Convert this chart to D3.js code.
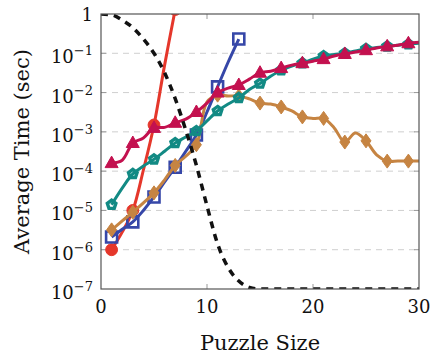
<!DOCTYPE html>
<html>
<head>
<meta charset="utf-8">
<script src="https://cdn.jsdelivr.net/npm/d3@7"></script>
<style>
  html, body { margin: 0; padding: 0; background: #fff; }
</style>
</head>
<body>
<div id="chart"></div>
<script>
// puzzle sizes 1..30 (marks drawn on the odd sizes only)
const sizes = d3.range(1, 31);

const redTimes    = [1e-6, 2.8e-6, 1e-5, 1.07e-4, 1.5e-3, 0.05, 1.3];
const blueTimes   = [2.1e-6, 3.3e-6, 5.1e-6, 1.0e-5, 2.2e-5, 5.3e-5, 1.26e-4, 3.2e-4, 8.3e-4, 3.2e-3, 1.4e-2, 6e-2, 0.23];
const orangeTimes = [3.2e-6, 5.4e-6, 9e-6, 1.55e-5, 2.8e-5, 6e-5, 1.4e-4, 2.4e-4, 4.7e-4, 5.8e-3,
                     8.6e-3, 8.2e-3, 8.2e-3, 6.9e-3, 5.4e-3, 5.1e-3, 4.3e-3, 3.4e-3, 2.4e-3, 2.2e-3,
                     2.2e-3, 1.26e-3, 5.5e-4, 9.3e-4, 5.9e-4, 2.6e-4, 1.8e-4, 1.8e-4, 1.8e-4, 1.8e-4];
const tealTimes   = [1.4e-5, 3.7e-5, 8.5e-5, 1.35e-4, 2e-4, 3.2e-4, 5.2e-4, 7.4e-4, 1.05e-3, 1.9e-3,
                     3.4e-3, 5.1e-3, 7.3e-3, 1.2e-2, 1.7e-2, 2.6e-2, 3.7e-2, 4.7e-2, 5.6e-2, 7.1e-2,
                     8.5e-2, 9.3e-2, 0.1, 0.114, 0.13, 0.14, 0.15, 0.16, 0.17, 0.18];
const crimsonTimes = [1.6e-4, 1.9e-4, 5.2e-4, 7e-4, 1.26e-3, 1.3e-3, 1.7e-3, 2.1e-3, 3.2e-3, 5.4e-3,
                      1.0e-2, 1.3e-2, 1.56e-2, 2.2e-2, 3.2e-2, 3.5e-2, 4.2e-2, 5e-2, 5.6e-2, 6.3e-2,
                      7.1e-2, 8.5e-2, 9.6e-2, 0.108, 0.12, 0.137, 0.15, 0.16, 0.18, 0.19];

// dashed reference curve, sizes 0..30
const refSizes = d3.range(0, 31);
const refTimes = [1, 0.95, 0.7, 0.45, 0.23, 0.1, 0.032, 7e-3, 1.1e-3, 1.4e-4, 1.3e-5,
                  1.4e-6, 3.5e-7, 1.6e-7, 1.1e-7, 1e-7, 1e-7, 1e-7, 1e-7, 1e-7, 1e-7,
                  1e-7, 1e-7, 1e-7, 1e-7, 1e-7, 1e-7, 1e-7, 1e-7, 1e-7, 1e-7];

const xTicks = [0, 10, 20, 30];
const yTicks = [1e-7, 1e-6, 1e-5, 1e-4, 1e-3, 1e-2, 1e-1, 1];

const width = 432, height = 354;
const margin = {top: 14, right: 13, bottom: 65, left: 101};
const serif = "'DejaVu Serif', 'Liberation Serif', serif";

const svg = d3.select("#chart").append("svg")
  .attr("width", width)
  .attr("height", height)
  .style("font-family", serif);

const x = d3.scaleLinear().domain([0, 30]).range([margin.left, width - margin.right]);
const y = d3.scaleLog().domain([1e-7, 1]).range([height - margin.bottom, margin.top]);

svg.append("clipPath").attr("id", "plot-clip")
  .append("rect")
  .attr("x", x(0)).attr("y", y(1))
  .attr("width", x(30) - x(0)).attr("height", y(1e-7) - y(1));

// grid lines
svg.append("g")
  .selectAll("line")
  .data(yTicks.filter(v => v > 1e-7 && v < 1))
  .join("line")
    .attr("x1", x(0)).attr("x2", x(30))
    .attr("y1", d => y(d)).attr("y2", d => y(d))
    .attr("stroke", "#cfcfcf")
    .attr("stroke-width", 1)
    .attr("stroke-dasharray", "6,5");

// ticks on all four sides, pointing inward
const tickLen = 5;
const ticks = svg.append("g").attr("stroke", "#999").attr("stroke-width", 1);
xTicks.slice(1, -1).forEach(t => {
  ticks.append("line").attr("x1", x(t)).attr("x2", x(t)).attr("y1", y(1e-7)).attr("y2", y(1e-7) - tickLen);
  ticks.append("line").attr("x1", x(t)).attr("x2", x(t)).attr("y1", y(1)).attr("y2", y(1) + tickLen);
});
yTicks.slice(1, -1).forEach(t => {
  ticks.append("line").attr("x1", x(0)).attr("x2", x(0) + tickLen).attr("y1", y(t)).attr("y2", y(t));
  ticks.append("line").attr("x1", x(30)).attr("x2", x(30) - tickLen).attr("y1", y(t)).attr("y2", y(t));
});

const plot = svg.append("g").attr("clip-path", "url(#plot-clip)");
const smooth = d3.line().curve(d3.curveCatmullRom.alpha(0.5));

const marker = {
  circle: d3.symbol().type(d3.symbolCircle).size(110)(),
  square: "M-5.5,-5.5H5.5V5.5H-5.5Z",
  diamond: "M0,-7L5,0L0,7L-5,0Z",
  triangle: "M0,-7L6.5,4.5L-6.5,4.5Z",
  pentagon: d3.range(5).map((i, k) => {
    const a = -Math.PI / 2 + i * 2 * Math.PI / 5;
    return (k ? "L" : "M") + (4.5 * Math.cos(a)).toFixed(2) + "," + (4.5 * Math.sin(a)).toFixed(2);
  }).join("") + "Z"
};

const series = [
  {values: redTimes,     color: "#e5372b", mark: "circle",   filled: true,  sw: 1},
  {values: blueTimes,    color: "#3647a8", mark: "square",   filled: false, sw: 2.6},
  {values: orangeTimes,  color: "#c68442", mark: "diamond",  filled: true,  sw: 1},
  {values: tealTimes,    color: "#128a84", mark: "pentagon", filled: false, sw: 3.4},
  {values: crimsonTimes, color: "#c3114f", mark: "triangle", filled: true,  sw: 1}
];

series.forEach(s => {
  const pts = s.values.map((v, i) => [x(sizes[i]), y(v)]);
  plot.append("path")
    .attr("d", smooth(pts))
    .attr("fill", "none")
    .attr("stroke", s.color)
    .attr("stroke-width", 3)
    .attr("stroke-linejoin", "round");
  plot.append("g")
    .selectAll("path")
    .data(pts.filter((p, i) => sizes[i] % 2 === 1))
    .join("path")
      .attr("transform", d => `translate(${d[0]},${d[1]})`)
      .attr("d", marker[s.mark])
      .attr("fill", s.filled ? s.color : "none")
      .attr("stroke", s.color)
      .attr("stroke-width", s.sw)
      .attr("stroke-linejoin", "miter");
});

// black dashed reference curve
plot.append("path")
  .attr("d", d3.line().curve(d3.curveMonotoneX)(refTimes.map((v, i) => [x(refSizes[i]), y(v)])))
  .attr("fill", "none")
  .attr("stroke", "#111")
  .attr("stroke-width", 3.5)
  .attr("stroke-dasharray", "7,6");

// frame
svg.append("rect")
  .attr("x", x(0)).attr("y", y(1))
  .attr("width", x(30) - x(0)).attr("height", y(1e-7) - y(1))
  .attr("fill", "none")
  .attr("stroke", "#555")
  .attr("stroke-width", 1.2);

// x tick labels
svg.append("g")
  .selectAll("text")
  .data(xTicks)
  .join("text")
    .attr("x", d => x(d))
    .attr("y", y(1e-7) + 24)
    .attr("text-anchor", "middle")
    .attr("font-size", 18)
    .attr("fill", "#111")
    .text(d => d);

// y tick labels
const yl = svg.append("g").attr("fill", "#111");
yTicks.forEach(t => {
  const e = Math.round(Math.log10(t));
  const txt = yl.append("text")
    .attr("x", x(0) - 8)
    .attr("y", y(t) + 10)
    .attr("text-anchor", "end")
    .attr("font-size", 18);
  if (e === 0) {
    txt.attr("y", y(t) + 7).text("1");
  } else {
    txt.append("tspan").text("10");
    txt.append("tspan").attr("font-size", 13).attr("dy", -8).text("\u2212" + (-e));
  }
});

// axis labels
svg.append("text")
  .attr("x", (x(0) + x(30)) / 2)
  .attr("y", 350)
  .attr("text-anchor", "middle")
  .attr("font-size", 21)
  .attr("fill", "#111")
  .text("Puzzle Size");

svg.append("text")
  .attr("transform", `translate(29,${(y(1) + y(1e-7)) / 2}) rotate(-90)`)
  .attr("text-anchor", "middle")
  .attr("font-size", 21)
  .attr("fill", "#111")
  .text("Average Time (sec)");
</script>
</body>
</html>
